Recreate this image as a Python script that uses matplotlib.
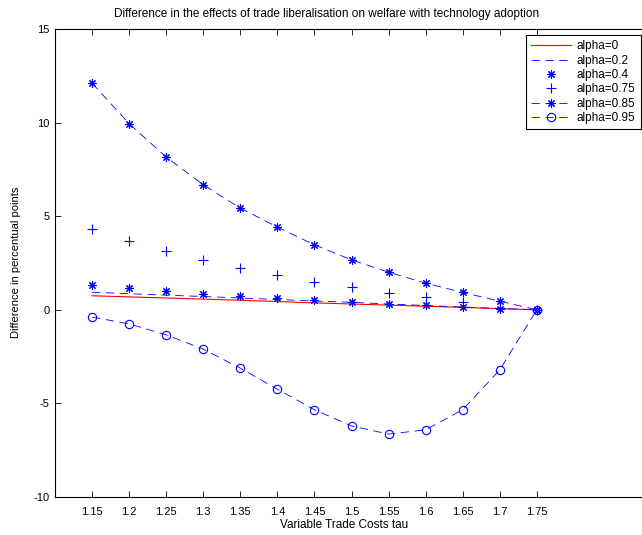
import matplotlib
matplotlib.use("Agg")
import matplotlib.pyplot as plt

plt.rcParams['font.family'] = ['Liberation Sans', 'DejaVu Sans']
plt.rcParams['lines.scale_dashes'] = False
plt.rcParams['axes.unicode_minus'] = False

# data
tau = [1.15, 1.2, 1.25, 1.3, 1.35, 1.4, 1.45, 1.5, 1.55, 1.6, 1.65, 1.7, 1.75]
a0 = [0.75, 0.69, 0.63, 0.57, 0.51, 0.44, 0.37, 0.31, 0.25, 0.19, 0.13, 0.06, 0.0]
a02 = [0.94, 0.86, 0.78, 0.71, 0.63, 0.55, 0.47, 0.40, 0.31, 0.23, 0.15, 0.07, 0.0]
a04 = [1.30, 1.18, 1.01, 0.87, 0.75, 0.62, 0.52, 0.41, 0.32, 0.23, 0.14, 0.05, 0.0]
a075 = [4.33, 3.70, 3.15, 2.67, 2.23, 1.87, 1.51, 1.20, 0.91, 0.71, 0.42, 0.12, 0.0]
a085 = [12.11, 9.94, 8.16, 6.68, 5.43, 4.42, 3.47, 2.67, 2.01, 1.42, 0.93, 0.46, 0.0]
a095 = [-0.39, -0.75, -1.34, -2.10, -3.12, -4.24, -5.34, -6.20, -6.64, -6.41, -5.34, -3.21, 0.0]

W, H = 642, 535
fig = plt.figure(figsize=(W / 100, H / 100), dpi=100)
ax = fig.add_axes([55 / W, 1 - 497 / H, (648 - 55) / W, (497 - 29) / H])

blue = (0, 0, 1)
red = (1, 0, 0)
dash = (6, 4)
ms = 6

ax.plot(tau, a0, color=red, lw=0.8, label='alpha=0')
ax.plot(tau, a02, color=blue, lw=0.6, dashes=dash, label='alpha=0.2')
ax.plot(tau, a04, color=blue, lw=0, marker=(8, 2, 0), ms=ms, mew=0.8, label='alpha=0.4')
ax.plot(tau, a075, color=blue, lw=0, marker='+', ms=ms + 1, mew=0.8, label='alpha=0.75')
ax.plot(tau, a085, color=blue, lw=0.6, dashes=dash, marker=(8, 2, 0), ms=ms, mew=0.8,
        label='alpha=0.85')
ax.plot(tau, a095, color=blue, lw=0.6, dashes=dash, marker='o', ms=ms, mew=0.8,
        mfc='none', label='alpha=0.95')

ax.set_xlim(1.1, 1.9)
ax.set_ylim(-10, 15)
ax.set_xticks(tau)
ax.set_xticklabels(['1.15', '1.2', '1.25', '1.3', '1.35', '1.4', '1.45', '1.5',
                    '1.55', '1.6', '1.65', '1.7', '1.75'])
ax.set_yticks([-10, -5, 0, 5, 10, 15])
ax.tick_params(direction='in', length=4, width=0.6, labelsize=8, top=True, right=True)
ax.tick_params(axis='x', pad=7)
ax.tick_params(axis='y', pad=4)
for s in ax.spines.values():
    s.set_linewidth(0.8)

fig.text(327 / W, 1 - 14 / H, 'Difference in the effects of trade liberalisation on welfare with technology adoption',
         ha='center', va='center', fontsize=8.5)
fig.text(344 / W, 1 - 525 / H, 'Variable Trade Costs tau', ha='center', va='center', fontsize=8.5)
fig.text(16 / W, 1 - 262 / H, 'Difference in percentual points', ha='center', va='center',
         rotation=90, fontsize=8)

leg = ax.legend(loc='upper right', bbox_to_anchor=(641 / W, 1 - 35 / H),
                bbox_transform=fig.transFigure, borderaxespad=0, fontsize=8.5,
                fancybox=False, framealpha=1, edgecolor='black', handlelength=3.4,
                handletextpad=0.5, labelspacing=0.2, borderpad=0.45)
leg.get_frame().set_linewidth(0.8)

fig.savefig('out.png', dpi=100)
